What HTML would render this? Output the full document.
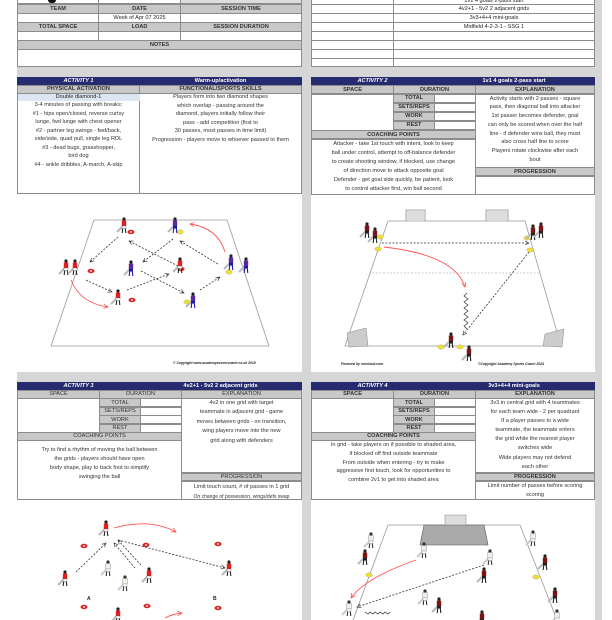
<!DOCTYPE html>
<html><head><meta charset="utf-8">
<style>
body{margin:0;width:612px;height:620px;overflow:hidden;background:#fff;font-family:"Liberation Sans",sans-serif;color:#222;position:relative}
.bg{position:absolute;left:17px;top:0;width:585px;height:620px;background:#d6d6d6}
.p{position:absolute;background:#fff}
.c{position:absolute;box-sizing:border-box;border:0.6px solid #8c8c8c;display:flex;align-items:center;justify-content:center;font-size:5.6px;white-space:nowrap;overflow:hidden;background:#fff}
.g{background:#c8c8c8;font-weight:bold;color:#333}
.n{background:#262a6e;color:#fff;font-weight:bold;border-color:#262a6e}
.t{position:absolute;text-align:center;font-size:5.6px;white-space:nowrap;color:#333}
svg{position:absolute;left:0;top:0}
</style></head><body>
<div class="bg"></div>
<div class="p" style="left:17px;top:0;width:285px;height:67px"></div>
<div class="p" style="left:311px;top:0;width:284px;height:67px"></div>
<div class="c" style="left:17px;top:-5px;width:82px;height:9px"></div>
<div class="c" style="left:98px;top:-5px;width:83px;height:9px"></div>
<div class="c" style="left:180px;top:-5px;width:122px;height:9px;background:#ddd"></div>
<div class="c g" style="left:17px;top:4px;width:82px;height:9.5px">TEAM</div>
<div class="c g" style="left:98px;top:4px;width:83px;height:9.5px">DATE</div>
<div class="c g" style="left:180px;top:4px;width:122px;height:9.5px">SESSION TIME</div>
<div class="c" style="left:17px;top:13px;width:82px;height:9.5px"></div>
<div class="c" style="left:98px;top:13px;width:83px;height:9.5px">Week of Apr 07 2025</div>
<div class="c" style="left:180px;top:13px;width:122px;height:9.5px"></div>
<div class="c g" style="left:17px;top:22px;width:82px;height:9.5px">TOTAL SPACE</div>
<div class="c g" style="left:98px;top:22px;width:83px;height:9.5px">LOAD</div>
<div class="c g" style="left:180px;top:22px;width:122px;height:9.5px">SESSION DURATION</div>
<div class="c" style="left:17px;top:31px;width:82px;height:9.5px"></div>
<div class="c" style="left:98px;top:31px;width:83px;height:9.5px"></div>
<div class="c" style="left:180px;top:31px;width:122px;height:9.5px"></div>
<div class="c g" style="left:17px;top:40px;width:285px;height:9.5px">NOTES</div>
<div class="c" style="left:17px;top:49px;width:285px;height:18px"></div>
<div style="position:absolute;left:48px;top:0;width:8px;height:3px;background:#111;border-radius:0 0 4px 4px"></div>
<div class="c" style="left:311px;top:-5px;width:83px;height:9.5px"></div><div class="c" style="left:393px;top:-5px;width:202px;height:9.5px;align-items:flex-end">1v1 4 goals 2-pass start</div>
<div class="c" style="left:311px;top:4px;width:83px;height:9.5px"></div><div class="c" style="left:393px;top:4px;width:202px;height:9.5px">4v2+1 - 5v2 2 adjacent grids</div>
<div class="c" style="left:311px;top:13px;width:83px;height:9.5px"></div><div class="c" style="left:393px;top:13px;width:202px;height:9.5px">3v3+4+4 mini-goals</div>
<div class="c" style="left:311px;top:22px;width:83px;height:9.5px"></div><div class="c" style="left:393px;top:22px;width:202px;height:9.5px">Midfield 4-2-3-1 - SSG 1</div>
<div class="c" style="left:311px;top:31px;width:83px;height:9.5px"></div><div class="c" style="left:393px;top:31px;width:202px;height:9.5px"></div>
<div class="c" style="left:311px;top:40px;width:83px;height:9.5px"></div><div class="c" style="left:393px;top:40px;width:202px;height:9.5px"></div>
<div class="c" style="left:311px;top:49px;width:83px;height:9.5px"></div><div class="c" style="left:393px;top:49px;width:202px;height:9.5px"></div>
<div class="c" style="left:311px;top:58px;width:83px;height:9px"></div><div class="c" style="left:393px;top:58px;width:202px;height:9px"></div>

<div class="p" style="left:17px;top:77px;width:285px;height:295px"></div>
<div class="c n" style="left:17px;top:77px;width:123px;height:8.5px;font-style:italic">ACTIVITY 1</div>
<div class="c n" style="left:139px;top:77px;width:163px;height:8.5px">Warm-up/activation</div>
<div class="c g" style="left:17px;top:85px;width:123px;height:8.5px">PHYSICAL ACTIVATION</div>
<div class="c g" style="left:139px;top:85px;width:163px;height:8.5px">FUNCTIONAL/SPORTS SKILLS</div>
<div class="c" style="left:17px;top:93px;width:123px;height:101px;border-bottom:0.6px solid #8c8c8c"></div>
<div class="c" style="left:139px;top:93px;width:163px;height:101px"></div>
<div class="c" style="left:17.5px;top:93.5px;width:122px;height:7.5px;background:#dce6f2;border:none">Double diamond-1</div>
<div class="t" style="left:17px;width:123px;top:101px;line-height:8.55px">3-4 minutes of passing with breaks:<br>#1 - hips open/closed, reverse curtsy<br>lunge, fwd lunge with chest opener<br>#2 - partner leg swings - fwd/back,<br>side/side, quad pull, single leg RDL<br>#3 - dead bugs, grasshopper,<br>bird dog<br>#4 - ankle dribbles, A-march, A-skip</div>
<div class="t" style="left:139px;width:163px;top:93px;line-height:8.55px">Players form into two diamond shapes<br>which overlap - passing around the<br>diamond, players initially follow their<br>pass - add competition (first to<br>30 passes, most passes in time limit)<br>Progression - players move to whoever passed to them</div>

<div class="p" style="left:311px;top:77px;width:284px;height:295px"></div>
<div class="c n" style="left:311px;top:77px;width:123px;height:8.5px;font-style:italic">ACTIVITY 2</div>
<div class="c n" style="left:433px;top:77px;width:162px;height:8.5px">1v1 4 goals 2-pass start</div>
<div class="c g" style="left:311px;top:85px;width:83px;height:9px">SPACE</div>
<div class="c g" style="left:393px;top:85px;width:83px;height:9px">DURATION</div>
<div class="c g" style="left:475px;top:85px;width:120px;height:9px">EXPLANATION</div>
<div class="c" style="left:311px;top:93.5px;width:83px;height:37px"></div>
<div class="c g" style="left:393px;top:93.5px;width:42px;height:9px">TOTAL</div><div class="c" style="left:434px;top:93.5px;width:42px;height:9px"></div>
<div class="c g" style="left:393px;top:102.5px;width:42px;height:9px">SETS/REPS</div><div class="c" style="left:434px;top:102.5px;width:42px;height:9px"></div>
<div class="c g" style="left:393px;top:111.5px;width:42px;height:9px">WORK</div><div class="c" style="left:434px;top:111.5px;width:42px;height:9px"></div>
<div class="c g" style="left:393px;top:120.5px;width:42px;height:9.5px">REST</div><div class="c" style="left:434px;top:120.5px;width:42px;height:9.5px"></div>
<div class="c g" style="left:311px;top:130px;width:165px;height:9px">COACHING POINTS</div>
<div class="c" style="left:311px;top:138.5px;width:165px;height:56px"></div>
<div class="c" style="left:475px;top:93.5px;width:120px;height:74px"></div>
<div class="c g" style="left:475px;top:167px;width:120px;height:9px">PROGRESSION</div>
<div class="c" style="left:475px;top:175.5px;width:120px;height:19px"></div>
<div class="t" style="left:475px;width:120px;top:94.5px;line-height:8.8px">Activity starts with 2 passes - square<br>pass, then diagonal ball into attacker<br>1st passer becomes defender, goal<br>can only be scored when over the half<br>line - if defender wins ball, they must<br>also cross half line to score<br>Players rotate clockwise after each<br>bout</div>
<div class="t" style="left:311px;width:165px;top:140px;line-height:8.9px">Attacker - take 1st touch with intent, look to keep<br>ball under control, attempt to off-balance defender<br>to create shooting window, if blocked, use change<br>of direction move to attack opposite goal<br>Defender - get goal side quickly, be patient, look<br>to control attacker first, win ball second</div>

<div class="p" style="left:17px;top:382px;width:285px;height:238px"></div>
<div class="c n" style="left:17px;top:382px;width:123px;height:8.5px;font-style:italic">ACTIVITY 3</div>
<div class="c n" style="left:139px;top:382px;width:163px;height:8.5px">4v2+1 - 5v2 2 adjacent grids</div>
<div class="c g" style="left:17px;top:390px;width:83px;height:8.5px;font-weight:normal">SPACE</div>
<div class="c g" style="left:99px;top:390px;width:83px;height:8.5px;font-weight:normal">DURATION</div>
<div class="c g" style="left:181px;top:390px;width:121px;height:8.5px;font-weight:normal">EXPLANATION</div>
<div class="c" style="left:17px;top:398px;width:83px;height:34.5px"></div>
<div class="c g" style="left:99px;top:398px;width:42px;height:9px;font-weight:normal">TOTAL</div><div class="c" style="left:140px;top:398px;width:42px;height:9px"></div>
<div class="c g" style="left:99px;top:406.5px;width:42px;height:9px;font-weight:normal">SETS/REPS</div><div class="c" style="left:140px;top:406.5px;width:42px;height:9px"></div>
<div class="c g" style="left:99px;top:415px;width:42px;height:9px;font-weight:normal">WORK</div><div class="c" style="left:140px;top:415px;width:42px;height:9px"></div>
<div class="c g" style="left:99px;top:423.5px;width:42px;height:9px;font-weight:normal">REST</div><div class="c" style="left:140px;top:423.5px;width:42px;height:9px"></div>
<div class="c g" style="left:17px;top:432px;width:165px;height:8.5px;font-weight:normal">COACHING POINTS</div>
<div class="c" style="left:17px;top:440px;width:165px;height:60px"></div>
<div class="c" style="left:181px;top:398px;width:121px;height:75px"></div>
<div class="c g" style="left:181px;top:472.5px;width:121px;height:8.5px;font-weight:normal">PROGRESSION</div>
<div class="c" style="left:181px;top:480.5px;width:121px;height:19.5px"></div>
<div class="t" style="left:181px;width:121px;top:399px;line-height:9.4px">4v2 in one grid with target<br>teammate in adjacent grid - game<br>moves between grids - on transition,<br>wing players move into the new<br>grid along with defenders</div>
<div class="t" style="left:17px;width:165px;top:445.5px;line-height:9px">Try to find a rhythm of moving the ball between<br>the grids - players should have open<br>body shape, play to back foot to simplify<br>swinging the ball</div>
<div class="t" style="left:181px;width:121px;top:482px;line-height:10px">Limit touch count, # of passes in 1 grid<br><span style="font-size:5px">On change of possession, wings/defs swap</span></div>

<div class="p" style="left:311px;top:382px;width:284px;height:238px"></div>
<div class="c n" style="left:311px;top:382px;width:123px;height:8.5px;font-style:italic">ACTIVITY 4</div>
<div class="c n" style="left:433px;top:382px;width:162px;height:8.5px">3v3+4+4 mini-goals</div>
<div class="c g" style="left:311px;top:390px;width:83px;height:8.5px">SPACE</div>
<div class="c g" style="left:393px;top:390px;width:83px;height:8.5px">DURATION</div>
<div class="c g" style="left:475px;top:390px;width:120px;height:8.5px">EXPLANATION</div>
<div class="c" style="left:311px;top:398px;width:83px;height:34.5px"></div>
<div class="c g" style="left:393px;top:398px;width:42px;height:9px">TOTAL</div><div class="c" style="left:434px;top:398px;width:42px;height:9px"></div>
<div class="c g" style="left:393px;top:406.5px;width:42px;height:9px">SETS/REPS</div><div class="c" style="left:434px;top:406.5px;width:42px;height:9px"></div>
<div class="c g" style="left:393px;top:415px;width:42px;height:9px">WORK</div><div class="c" style="left:434px;top:415px;width:42px;height:9px"></div>
<div class="c g" style="left:393px;top:423.5px;width:42px;height:9px">REST</div><div class="c" style="left:434px;top:423.5px;width:42px;height:9px"></div>
<div class="c g" style="left:311px;top:432px;width:165px;height:8.5px">COACHING POINTS</div>
<div class="c" style="left:311px;top:440px;width:165px;height:60px"></div>
<div class="c" style="left:475px;top:398px;width:120px;height:75px"></div>
<div class="c g" style="left:475px;top:472.5px;width:120px;height:8.5px">PROGRESSION</div>
<div class="c" style="left:475px;top:480.5px;width:120px;height:19.5px"></div>
<div class="t" style="left:475px;width:120px;top:399px;line-height:9.1px">3v3 in central grid with 4 teammates<br>for each team wide - 2 per quadrant<br>If a player passes to a wide<br>teammate, the teammate enters<br>the grid while the nearest player<br>switches wide<br>Wide players may not defend<br>each other</div>
<div class="t" style="left:311px;width:165px;top:441px;line-height:8.8px">In grid - take players on if possible to shaded area,<br>if blocked off find outside teammate<br>From outside when entering - try to make<br>aggressive first touch, look for opportunities to<br>combine 2v1 to get into shaded area</div>
<div class="t" style="left:475px;width:120px;top:481.5px;line-height:9px">Limit number of passes before scoring<br>scoring</div>

<svg width="612" height="620" viewBox="0 0 612 620">
<defs>
<marker id="ah" markerWidth="6" markerHeight="6" refX="5" refY="3" orient="auto"><path d="M0 0.5 L5 3 L0 5.5" fill="none" stroke="#333" stroke-width="0.8"/></marker>
<marker id="ar" markerWidth="6" markerHeight="6" refX="5" refY="3" orient="auto"><path d="M0 0.5 L5 3 L0 5.5" fill="none" stroke="#f44" stroke-width="0.8"/></marker>
<g id="pr"><path d="M-7 5 L-1 -1" stroke="#bbb" stroke-width="2.2"/><circle cx="0" cy="-8" r="1.6" fill="#222"/><rect x="-2.2" y="-6.5" width="4.4" height="5.5" fill="#e02020"/><rect x="-2" y="-1" width="4" height="2.5" fill="#fff" stroke="#444" stroke-width=".3"/><path d="M-1.3 1.5 L-1.8 6 M1.3 1.5 L1.8 6" stroke="#222" stroke-width="1.1"/></g>
<g id="pb"><path d="M-7 5 L-1 -1" stroke="#bbb" stroke-width="2.2"/><circle cx="0" cy="-8" r="1.6" fill="#222"/><rect x="-2.2" y="-6.5" width="4.4" height="5.5" fill="#5a2a9a"/><rect x="-2" y="-1" width="4" height="2.5" fill="#1a1ab0"/><path d="M-1.3 1.5 L-1.8 6 M1.3 1.5 L1.8 6" stroke="#1a1ab0" stroke-width="1.1"/></g>
<g id="pd"><path d="M-7 5 L-1 -1" stroke="#bbb" stroke-width="2.2"/><circle cx="0" cy="-8" r="1.6" fill="#222"/><rect x="-2.2" y="-6.5" width="4.4" height="5.5" fill="#7a1515"/><rect x="-2" y="-1" width="4" height="2.5" fill="#222"/><path d="M-1.3 1.5 L-1.8 6 M1.3 1.5 L1.8 6" stroke="#222" stroke-width="1.1"/></g>
<g id="pw"><path d="M-7 5 L-1 -1" stroke="#ccc" stroke-width="2.2"/><circle cx="0" cy="-8" r="1.6" fill="#333"/><rect x="-2.2" y="-6.5" width="4.4" height="5.5" fill="#f2f0e6" stroke="#777" stroke-width=".4"/><rect x="-2" y="-1" width="4" height="2.5" fill="#fff" stroke="#777" stroke-width=".3"/><path d="M-1.3 1.5 L-1.8 6 M1.3 1.5 L1.8 6" stroke="#333" stroke-width="1.1"/></g>
<g id="cr"><ellipse rx="3.5" ry="2.2" fill="#e02020"/><ellipse rx="1.2" ry=".7" fill="#fff"/></g>
<g id="cy"><ellipse rx="3.3" ry="2.2" fill="#eee030" stroke="#999" stroke-width=".3"/></g>
</defs>
<g fill="none" stroke="#999" stroke-width="0.8">
<path d="M94 220 L227 220 L269 346 L51 346 Z"/>
<path d="M388 221 L525 221 L561 346 L345 346 Z"/>
<path d="M406 221 V210 H425 V221 M486 221 V210 H508 V221" stroke="#888"/>
<path d="M388 525 L520 525 L557 620 M388 525 L353 620"/>
</g>
<rect x="407" y="211" width="17" height="9" fill="#ddd"/><rect x="487" y="211" width="20" height="9" fill="#ddd"/>
<path d="M347 333 L366 328 L368 346 L349 347 Z" fill="#ccc" stroke="#888" stroke-width=".5"/>
<path d="M543 346 L562 347 L564 329 L545 334 Z" fill="#ccc" stroke="#888" stroke-width=".5"/>
<line x1="369" y1="273" x2="539" y2="273" stroke="#bbb" stroke-width=".7" stroke-dasharray="2 1.5"/>
<path d="M420 545 L424 525 L484 525 L488 545 Z" fill="#aaa" stroke="#555" stroke-width=".6"/>
<rect x="445" y="515" width="21" height="10" fill="#ddd" stroke="#888" stroke-width=".5"/>
<g stroke="#333" stroke-width=".8" stroke-dasharray="2 1.5" marker-end="url(#ah)">
<line x1="118" y1="237" x2="90" y2="262"/><line x1="173" y1="239" x2="143" y2="262"/>
<line x1="178" y1="266" x2="129" y2="241"/><line x1="218" y1="264" x2="180" y2="241"/>
<line x1="86" y1="280" x2="112" y2="292"/><line x1="127" y1="290" x2="169" y2="274"/>
<line x1="141" y1="271" x2="184" y2="293"/><line x1="200" y1="290" x2="220" y2="277"/>
<line x1="382" y1="243" x2="529" y2="243"/><line x1="529" y1="252" x2="463" y2="335"/>
<line x1="76" y1="572" x2="106" y2="543"/><line x1="118" y1="540" x2="225" y2="568"/>
<line x1="135" y1="568" x2="114" y2="543"/><line x1="141" y1="565" x2="118" y2="540"/>
<line x1="484" y1="565" x2="357" y2="607"/>
</g>
<g stroke="#f55" stroke-width=".9" fill="none" marker-end="url(#ar)">
<path d="M225 252 Q218 228 190 224"/><path d="M71 280 Q80 303 108 307"/>
<path d="M384 247 Q455 255 465 287"/>
<path d="M114 528 Q150 518 176 532"/><path d="M165 618 Q172 614 182 613"/>
<path d="M416 560 Q365 578 351 598"/>
</g>
<path d="M467 293 l-3 3 l4 3 l-4 3 l4 3 l-4 3 l4 3 l-4 3 l4 3 l-4 3 l4 3 l-4 3 l3 3" fill="none" stroke="#333" stroke-width=".7"/>
<path d="M365 612 l3 2 l2 -2 l3 2 l2 -2 l3 2 l2 -2 l3 2 l2 -2 l3 2 l2 -2" fill="none" stroke="#333" stroke-width=".7"/>
<use href="#cr" x="131" y="232"/><use href="#cr" x="91" y="271"/><use href="#cr" x="132" y="300"/><use href="#cr" x="181" y="269"/>
<use href="#cy" x="180" y="232"/><use href="#cy" x="229" y="272"/><use href="#cy" x="187" y="302"/>
<use href="#cy" x="380" y="237"/><use href="#cy" x="378" y="249"/><use href="#cy" x="527" y="238"/><use href="#cy" x="530" y="250"/><use href="#cy" x="441" y="347"/><use href="#cy" x="460" y="347"/>
<use href="#cr" x="84" y="546"/><use href="#cr" x="146" y="545"/><use href="#cr" x="218" y="544"/><use href="#cr" x="84" y="607"/><use href="#cr" x="147" y="606"/><use href="#cr" x="218" y="608"/>
<use href="#cy" x="369" y="575"/><use href="#cy" x="536" y="577"/>
<use href="#pr" x="124" y="227"/><use href="#pr" x="66" y="269"/><use href="#pr" x="75" y="269"/><use href="#pr" x="118" y="299"/><use href="#pr" x="180" y="267"/>
<use href="#pb" x="175" y="227"/><use href="#pb" x="131" y="270"/><use href="#pb" x="231" y="264"/><use href="#pb" x="246" y="267"/><use href="#pb" x="193" y="302"/>
<use href="#pd" x="367" y="232"/><use href="#pd" x="375" y="237"/><use href="#pd" x="533" y="234"/><use href="#pd" x="541" y="232"/><use href="#pd" x="451" y="342"/><use href="#pd" x="469" y="355"/>
<use href="#pr" x="106" y="530"/><use href="#pr" x="65" y="580"/><use href="#pw" x="108" y="570"/><use href="#pw" x="125" y="585"/><use href="#pr" x="149" y="577"/><use href="#pr" x="229" y="570"/><use href="#pr" x="118" y="617"/>
<use href="#pw" x="371" y="542"/><use href="#pd" x="365" y="559"/><use href="#pw" x="424" y="552"/><use href="#pw" x="490" y="559"/><use href="#pd" x="484" y="577"/><use href="#pw" x="533" y="540"/><use href="#pd" x="545" y="564"/><use href="#pd" x="555" y="597"/><use href="#pw" x="425" y="599"/><use href="#pd" x="439" y="607"/><use href="#pw" x="349" y="610"/><use href="#pd" x="482" y="620"/><use href="#pw" x="557" y="619"/>
<g font-family="Liberation Sans, sans-serif" font-weight="bold" fill="#222">
<text x="87" y="600" font-size="5">A</text><text x="213" y="600" font-size="5">B</text>
<text x="173" y="364" font-size="3.4" font-style="italic">© Copyright www.academysoccercoach.co.uk 2019</text>
<text x="341" y="365" font-size="3.4" font-style="italic">Powered by sorcloud.com</text>
<text x="478" y="365" font-size="3.4" font-style="italic">©Copyright Academy Sports Coach 2024</text>
</g>
</svg>
</body></html>
